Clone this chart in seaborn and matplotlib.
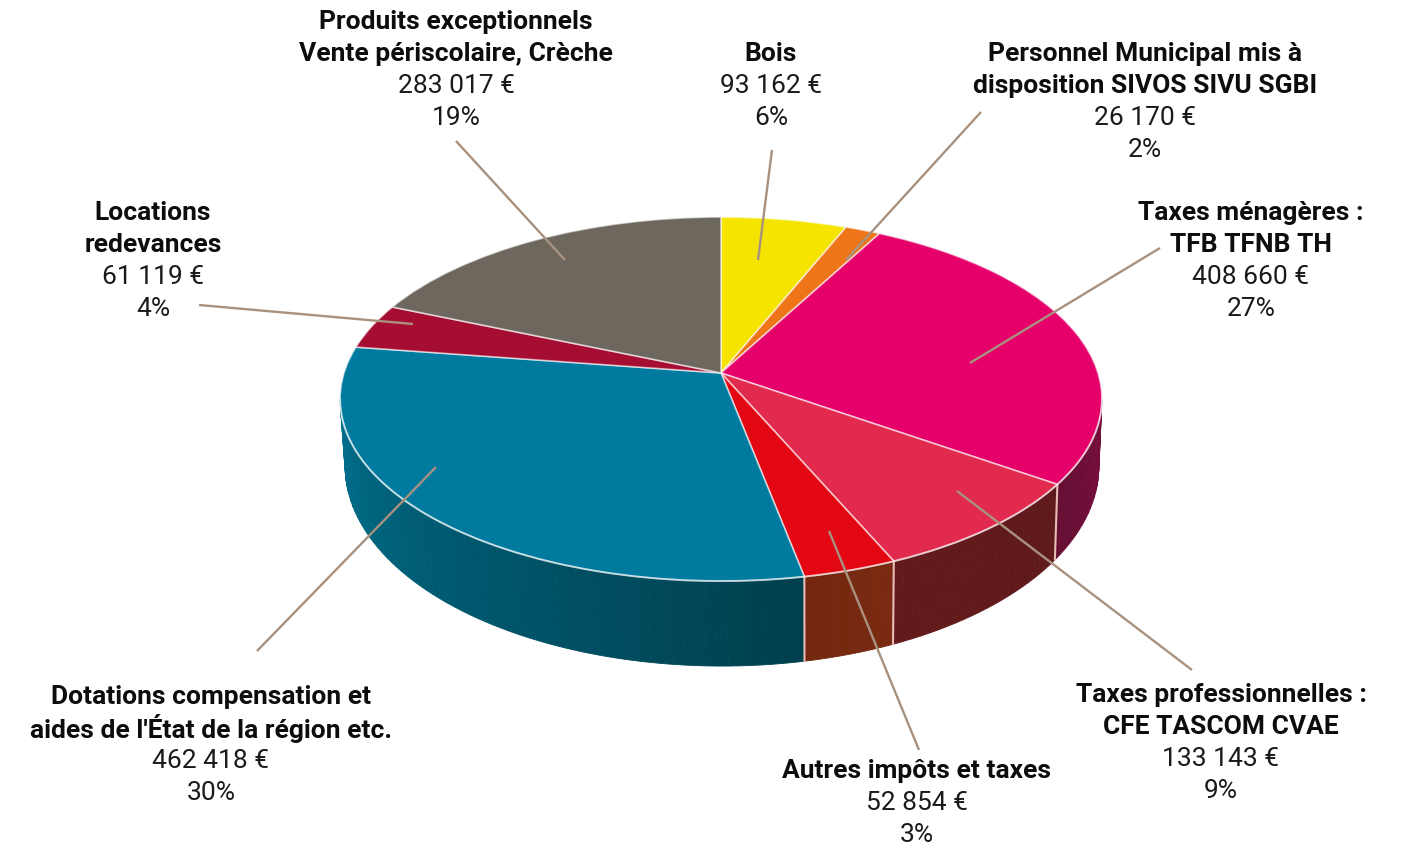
"""Camembert 3D des recettes : ax.pie passé dans une transformation perspective."""
import matplotlib
matplotlib.use("Agg")
import matplotlib.pyplot as plt
import matplotlib.transforms as mtransforms
import numpy as np
import seaborn as sns
from matplotlib.colors import to_rgb

# Data, clockwise from 12 o'clock
names = [
    "Bois",
    "Personnel Municipal mis à\ndisposition SIVOS SIVU SGBI",
    "Taxes ménagères :\nTFB TFNB TH",
    "Taxes professionnelles :\nCFE TASCOM CVAE",
    "Autres impôts et taxes",
    "Dotations compensation et\naides de l'État de la région etc.",
    "Locations\nredevances",
    "Produits exceptionnels\nVente périscolaire, Crèche",
]
amounts = [93162, 26170, 408660, 133143, 52854, 462418, 61119, 283017]
amount_labels = ["93 162 €", "26 170 €", "408 660 €", "133 143 €",
                 "52 854 €", "462 418 €", "61 119 €", "283 017 €"]
percent_labels = ["6%", "2%", "27%", "9%", "3%", "30%", "4%", "19%"]

top_colors = ["#f5e400", "#ee7518", "#e5006a", "#e12a4e",
              "#e30613", "#007a9e", "#a60d32", "#6d675d"]
# wall colour at the start and end of each wedge (clockwise)
wall_from = ["#333333", "#333333", "#7c0c3e", "#5f1a1c",
             "#7a2a12", "#003f4e", "#333333", "#333333"]
wall_to = ["#333333", "#333333", "#650f33", "#641a1b",
           "#74280f", "#006f8c", "#333333", "#333333"]

# Layout, in picture pixels
label_xy = [(771, 54), (1145, 54), (1251, 213), (1221, 695),
            (917, 771), (211, 697), (153, 213), (456, 22)]
leaders = [((772, 151), (758, 261)), ((981, 113), (846, 261)),
           ((1160, 249), (970, 364)), ((1192, 671), (957, 492)),
           ((919, 751), (829, 532)), ((257, 652), (436, 468)),
           ((199, 306), (413, 325)), ((456, 142), (565, 261))]
LINE_STEP = 32
APEX = (721, 374)
PERSP = (377.0, 178.3, 0.143)      # x scale, y scale, foreshortening
TOP_ELLIPSE = (721, 400, 381, 182)
BOTTOM_ELLIPSE = (722, 467, 377, 200)


class Perspective(mtransforms.Transform):
    """Unit circle of the pie -> tilted disc in picture pixels."""
    input_dims = 2
    output_dims = 2

    def transform_non_affine(self, values):
        values = np.asarray(values)
        u, v = values[:, 0], values[:, 1]
        a, b, k = PERSP
        w = 1 + k * v
        return np.column_stack([APEX[0] + a * u / w, APEX[1] - b * v / w])


def rim_points(t):
    t = np.asarray(t)
    return Perspective().transform(np.column_stack([np.sin(t), np.cos(t)]))


def drop_to_bottom(pts):
    cx, cy, a, b = TOP_ELLIPSE
    cx2, cy2, a2, b2 = BOTTOM_ELLIPSE
    return np.column_stack([cx2 + (pts[:, 0] - cx) * a2 / a,
                            cy2 + (pts[:, 1] - cy) * b2 / b])


sns.set_theme(style="white")
plt.rcParams["font.family"] = ["Roboto", "DejaVu Sans"]

fig = plt.figure(figsize=(14.02, 8.45), dpi=100)
ax = fig.add_axes([0, 0, 1, 1])

persp = Perspective()
wedges, _ = ax.pie(
    amounts,
    colors=sns.color_palette(top_colors),
    startangle=90,
    counterclock=False,
    wedgeprops={"edgecolor": (1, 1, 1, 0.6), "linewidth": 1.2},
)
for wedge in wedges:
    wedge.set_transform(persp + ax.transData)
    wedge.set_zorder(3)

ax.set_aspect("auto")
ax.set_xlim(0, 1402)
ax.set_ylim(845, 0)
ax.set_axis_off()

# Side wall of the disc, only the part that faces us
edges = np.r_[0, np.cumsum(amounts)] / np.sum(amounts) * 2 * np.pi
wall_min = np.pi / 2 + np.arcsin(PERSP[2])
wall_max = 2 * np.pi - wall_min
for i in range(len(amounts)):
    t0, t1 = max(edges[i], wall_min), min(edges[i + 1], wall_max)
    if t1 <= t0:
        continue
    n_strips = max(int((t1 - t0) * 40), 2)
    steps = np.linspace(t0, t1, n_strips + 1)
    c0, c1 = np.array(to_rgb(wall_from[i])), np.array(to_rgb(wall_to[i]))
    for j in range(n_strips):
        top = rim_points(np.linspace(steps[j], steps[j + 1], 4))
        bottom = drop_to_bottom(top)
        poly = np.vstack([top, bottom[::-1]])
        col = c0 + (c1 - c0) * (j + 0.5) / n_strips
        ax.fill(poly[:, 0], poly[:, 1], color=col, lw=0.6, zorder=1)

# Light seams between wedges on the wall
for t in edges[1:-1]:
    if wall_min < t < wall_max:
        top = rim_points([t])
        bottom = drop_to_bottom(top)
        ax.plot([top[0, 0], bottom[0, 0]], [top[0, 1], bottom[0, 1]],
                color="#e6bdb6", lw=1.5, zorder=2)

# Highlight along the front rim
front = rim_points(np.linspace(wall_min, wall_max, 200))
ax.plot(front[:, 0], front[:, 1], color=(1, 1, 1, 0.45), lw=1.4, zorder=3.5)

# Leader lines
for start, end in leaders:
    ax.plot([start[0], end[0]], [start[1], end[1]], color="#a8927f", lw=1.7,
            solid_capstyle="butt", zorder=4)

# Labels, bold name then amount and percentage
for name, amount, pct, (x, y) in zip(names, amount_labels, percent_labels, label_xy):
    rows = name.split("\n")
    for k, row in enumerate(rows):
        ax.text(x, y + k * LINE_STEP, row, ha="center", va="center",
                fontsize=19, fontweight="bold", color="#0d0d0d", zorder=5)
    y2 = y + len(rows) * LINE_STEP
    ax.text(x, y2, amount, ha="center", va="center", fontsize=19,
            color="#1a1a1a", zorder=5)
    ax.text(x, y2 + LINE_STEP, pct, ha="center", va="center", fontsize=19,
            color="#1a1a1a", zorder=5)

fig.savefig("out.png", dpi=100, facecolor="white")
